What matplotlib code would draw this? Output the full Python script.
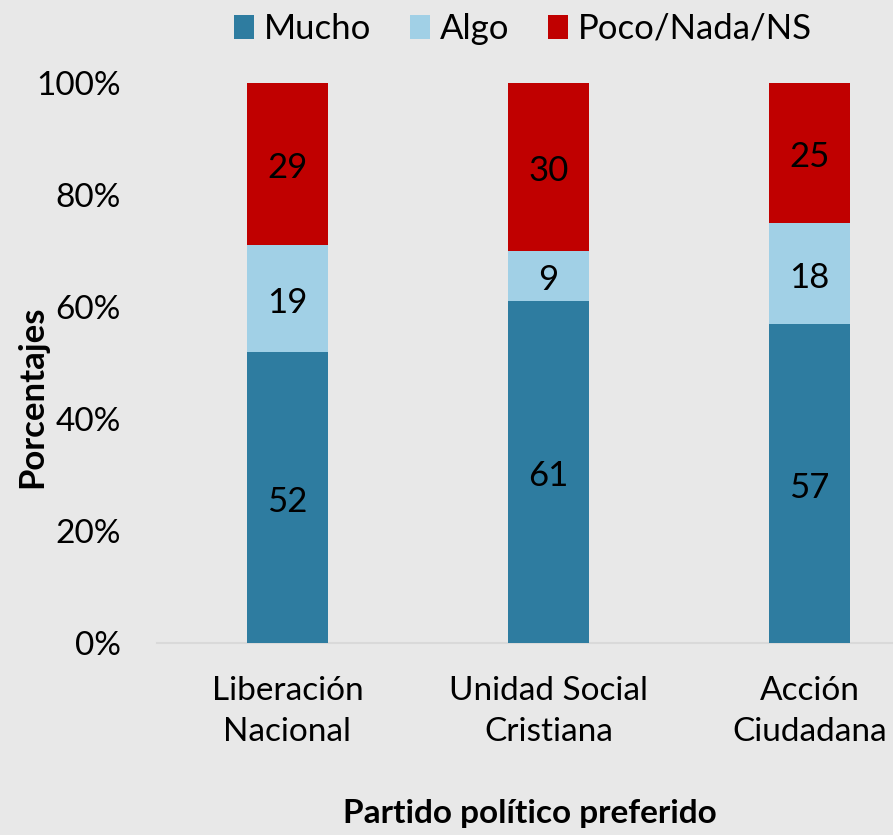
import matplotlib
matplotlib.use("Agg")
import matplotlib.pyplot as plt
import numpy as np

categories = ["Liberación\nNacional", "Unidad Social\nCristiana", "Acción\nCiudadana"]
series_names = ["Mucho", "Algo", "Poco/Nada/NS"]
mucho = [52, 61, 57]
algo = [19, 9, 18]
poco = [29, 30, 25]
colors = ["#2E7CA0", "#A1D0E6", "#C00000"]
yticks = [0, 20, 40, 60, 80, 100]
ytick_labels = ["0%", "20%", "40%", "60%", "80%", "100%"]

plt.rcParams['font.family'] = ['Lato', 'DejaVu Sans']
bg = "#E8E8E8"
fig = plt.figure(figsize=(8.93, 8.35), dpi=100, facecolor=bg)
W, H = 893, 835
left, right = 157 / W, 940 / W
bottom, top = (H - 643) / H, (H - 83) / H
ax = fig.add_axes([left, bottom, right - left, top - bottom], facecolor=bg)

x = np.arange(len(categories))
width = 0.31
bottoms = np.zeros(len(categories))
for name, vals, c in zip(series_names, [mucho, algo, poco], colors):
    ax.bar(x, vals, width, bottom=bottoms, color=c, label=name, zorder=3)
    for xi, v, b in zip(x, vals, bottoms):
        ax.annotate(f"{v}", (xi, b + v / 2), xytext=(0, -3), textcoords="offset points",
                    ha="center", va="center", fontsize=25, color="black", zorder=4)
    bottoms += np.array(vals)

ax.set_xlim(-0.5, 2.5)
ax.set_ylim(0, 100)
ax.set_yticks(yticks)
ax.set_yticklabels(ytick_labels, fontsize=24)
ax.set_xticks(x)
ax.set_xticklabels(categories, fontsize=24, linespacing=1.45)
ax.tick_params(axis="y", length=0, pad=26)
ax.tick_params(axis="x", length=0, pad=24)
for s in ["top", "right", "left"]:
    ax.spines[s].set_visible(False)
ax.spines["bottom"].set_color("#D9D9D9")
ax.spines["bottom"].set_linewidth(1.5)

fig.text(32 / W, 1 - 397 / H, "Porcentajes", rotation=90, ha="center", va="center",
         fontsize=25, fontweight="bold")
fig.text(530 / W, 1 - 813 / H, "Partido político preferido", ha="center", va="center",
         fontsize=24, fontweight="bold")

fig.legend(loc="center", bbox_to_anchor=(523 / W, 1 - 29 / H), ncol=3, frameon=False,
           fontsize=25, handlelength=0.58, handleheight=0.7, handletextpad=0.29,
           columnspacing=1.1)

fig.savefig("out.png", dpi=100, facecolor=bg)
